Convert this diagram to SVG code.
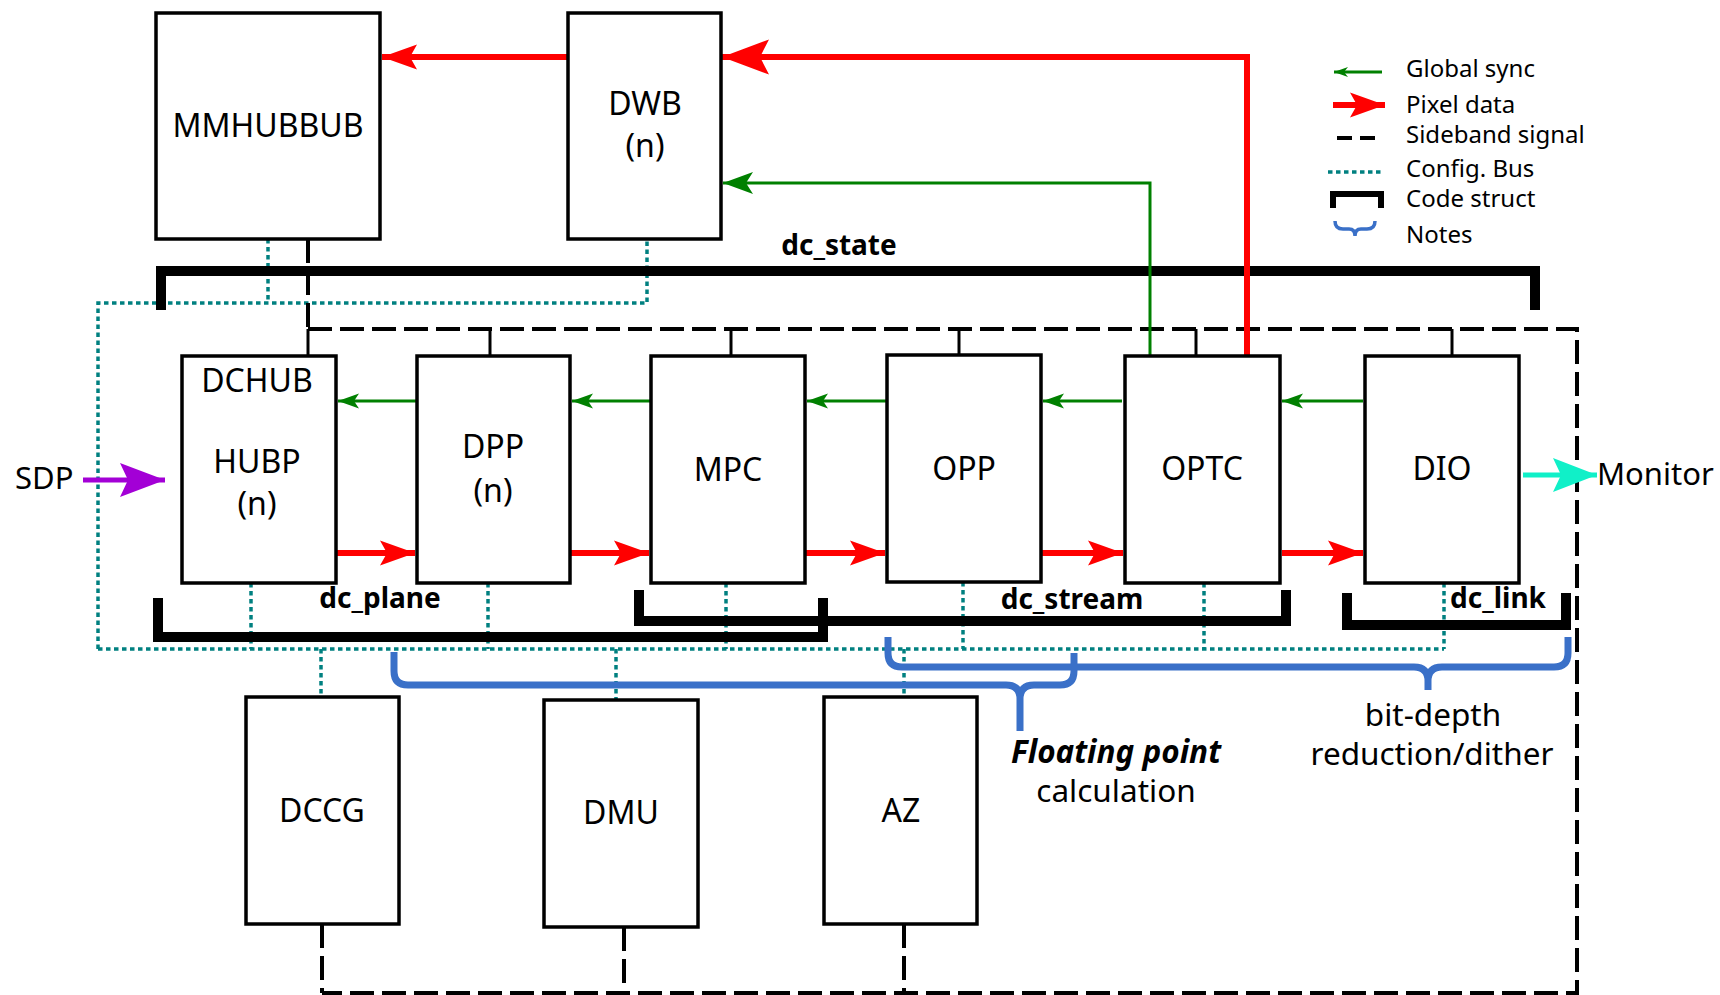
<svg xmlns="http://www.w3.org/2000/svg" width="1720" height="995" viewBox="0 0 1720 995">
<style>
.box{fill:#fff;stroke:#000;stroke-width:3.5}
.lbl{font-family:"Noto Sans","Open Sans","DejaVu Sans",sans-serif;font-size:32px;fill:#000;text-anchor:middle}
.lg{font-family:"Noto Sans","Open Sans","DejaVu Sans",sans-serif;font-size:24px;fill:#000}
.struct{font-family:"Noto Sans","Open Sans","DejaVu Sans",sans-serif;font-size:28px;font-weight:bold;fill:#000;text-anchor:middle}
.note{font-family:"Noto Sans","Open Sans","DejaVu Sans",sans-serif;font-size:31.5px;fill:#000;text-anchor:middle}
.red{fill:none;stroke:#ff0000;stroke-width:6}
.grn{fill:none;stroke:#008000;stroke-width:3}
.cfg{fill:none;stroke:#008080;stroke-width:3.5;stroke-dasharray:4.5 3.5}
.sb{fill:none;stroke:#000;stroke-width:4;stroke-dasharray:24 8}
.stub{fill:none;stroke:#000;stroke-width:3}
.cs{fill:none;stroke:#000;stroke-width:10;stroke-linejoin:miter;stroke-linecap:butt}
.brace{fill:none;stroke:#3a70c8;stroke-width:7;stroke-linecap:butt}
</style>
<defs>
<marker id="rH" markerUnits="userSpaceOnUse" viewBox="-36 -13 37 26" markerWidth="37" markerHeight="26" refX="0" refY="0" orient="auto" overflow="visible">
<path d="M0,0 L-35,-12.5 L-28,0 L-35,12.5 Z" fill="#ff0000"/>
</marker>
<marker id="rHB" markerUnits="userSpaceOnUse" viewBox="-48 -18 49 36" markerWidth="49" markerHeight="36" refX="0" refY="0" orient="auto" overflow="visible">
<path d="M0,0 L-47,-17.5 L-38,0 L-47,17.5 Z" fill="#ff0000"/>
</marker>
<marker id="gH" markerUnits="userSpaceOnUse" viewBox="-22 -8 23 16" markerWidth="23" markerHeight="16" refX="0" refY="0" orient="auto" overflow="visible">
<path d="M0,0 L-21,-7.5 L-16,0 L-21,7.5 Z" fill="#008000"/>
</marker>
<marker id="gHB" markerUnits="userSpaceOnUse" viewBox="-31 -12 32 24" markerWidth="32" markerHeight="24" refX="0" refY="0" orient="auto" overflow="visible">
<path d="M0,0 L-30,-11 L-23,0 L-30,11 Z" fill="#008000"/>
</marker>
<marker id="gHS" markerUnits="userSpaceOnUse" viewBox="-15 -6 16 12" markerWidth="16" markerHeight="12" refX="0" refY="0" orient="auto" overflow="visible">
<path d="M0,0 L-14,-5 L-10,0 L-14,5 Z" fill="#008000"/>
</marker>
<marker id="pH" markerUnits="userSpaceOnUse" viewBox="-46 -18 47 36" markerWidth="47" markerHeight="36" refX="0" refY="0" orient="auto" overflow="visible">
<path d="M0,0 L-45,-17 L-37,0 L-45,17 Z" fill="#a300d6"/>
</marker>
<marker id="cH" markerUnits="userSpaceOnUse" viewBox="-46 -18 47 36" markerWidth="47" markerHeight="36" refX="0" refY="0" orient="auto" overflow="visible">
<path d="M0,0 L-44,-17 L-36,0 L-44,17 Z" fill="#10f0c8"/>
</marker>
</defs>
<rect width="1720" height="995" fill="#fff"/>

<g id="connectors">
<path class="cfg" d="M268 239 V303"/>
<path class="cfg" d="M98 649 V303 H647 V239"/>
<path class="cfg" d="M98 649 H1444"/>
<path class="cfg" d="M251 583 V649"/>
<path class="cfg" d="M488 583 V649"/>
<path class="cfg" d="M726 583 V649"/>
<path class="cfg" d="M963 582 V649"/>
<path class="cfg" d="M1204 583 V649"/>
<path class="cfg" d="M1444 583 V649"/>
<path class="cfg" d="M321 649 V697"/>
<path class="cfg" d="M616 649 V700"/>
<path class="cfg" d="M904 649 V697"/>
<path class="sb" d="M308 239 V329"/>
<path class="sb" d="M308 329 H1577 V993 H322"/>
<path class="sb" d="M322 924 V993"/>
<path class="sb" d="M624 927 V993"/>
<path class="sb" d="M904 924 V993"/>
<path class="stub" d="M308 329 V356"/>
<path class="stub" d="M490 329 V356"/>
<path class="stub" d="M731 329 V356"/>
<path class="stub" d="M959 329 V355"/>
<path class="stub" d="M1196 329 V356"/>
<path class="stub" d="M1452 329 V356"/>
<path class="cs" d="M161 310 V271 H1535 V310"/>
<path class="cs" d="M158 598 V637 H823 V598"/>
<path class="cs" d="M639 590 V621 H1286 V590"/>
<path class="cs" d="M1347 593 V625 H1566 V593"/>
<path class="grn" d="M1150 356 V183 H723" marker-end="url(#gHB)"/>
<path class="grn" d="M416 401 H338" marker-end="url(#gH)"/>
<path class="grn" d="M650 401 H572" marker-end="url(#gH)"/>
<path class="grn" d="M886 401 H807" marker-end="url(#gH)"/>
<path class="grn" d="M1122 401 H1043" marker-end="url(#gH)"/>
<path class="grn" d="M1363 401 H1282" marker-end="url(#gH)"/>
<path class="red" d="M1247 356 V57 H722" marker-end="url(#rHB)"/>
<path class="red" d="M568 57 H382" marker-end="url(#rH)"/>
<path class="red" d="M337 553 H415" marker-end="url(#rH)"/>
<path class="red" d="M571 553 H649" marker-end="url(#rH)"/>
<path class="red" d="M806 553 H885" marker-end="url(#rH)"/>
<path class="red" d="M1042 553 H1123" marker-end="url(#rH)"/>
<path class="red" d="M1282 553 H1363" marker-end="url(#rH)"/>
<path d="M83 480 H165" fill="none" stroke="#a300d6" stroke-width="5" marker-end="url(#pH)"/>
<path d="M1523 475 H1597" fill="none" stroke="#10f0c8" stroke-width="5" marker-end="url(#cH)"/>
<path class="brace" d="M394 652 V671 Q394 685 408 685 H1006 Q1020 685 1020 699 V731 M1020 699 Q1020 685 1034 685 H1060 Q1074 685 1074 671 V653"/>
<path class="brace" d="M888 637 V653 Q888 667 902 667 H1414 Q1428 667 1428 681 V690 M1428 681 Q1428 667 1442 667 H1554 Q1568 667 1568 653 V637"/>
</g>

<g id="MMHUBBUB"><rect class="box" x="156" y="13" width="224" height="226"/><text class="lbl" x="268" y="137">MMHUBBUB</text></g>
<g id="DWB"><rect class="box" x="568" y="13" width="153" height="226"/><text class="lbl" x="645" y="115">DWB</text><text class="lbl" x="645" y="157">(n)</text></g>
<g id="HUBP"><rect class="box" x="182" y="356" width="154" height="227"/><text class="lbl" x="257" y="392">DCHUB</text><text class="lbl" x="257" y="473">HUBP</text><text class="lbl" x="257" y="515">(n)</text></g>
<g id="DPP"><rect class="box" x="417" y="356" width="153" height="227"/><text class="lbl" x="493" y="458">DPP</text><text class="lbl" x="493" y="502">(n)</text></g>
<g id="MPC"><rect class="box" x="651" y="356" width="154" height="227"/><text class="lbl" x="728" y="481">MPC</text></g>
<g id="OPP"><rect class="box" x="887" y="355" width="154" height="227"/><text class="lbl" x="964" y="480">OPP</text></g>
<g id="OPTC"><rect class="box" x="1125" y="356" width="155" height="227"/><text class="lbl" x="1202" y="480">OPTC</text></g>
<g id="DIO"><rect class="box" x="1365" y="356" width="154" height="227"/><text class="lbl" x="1442" y="480">DIO</text></g>
<g id="DCCG"><rect class="box" x="246" y="697" width="153" height="227"/><text class="lbl" x="322" y="822">DCCG</text></g>
<g id="DMU"><rect class="box" x="544" y="700" width="154" height="227"/><text class="lbl" x="621" y="824">DMU</text></g>
<g id="AZ"><rect class="box" x="824" y="697" width="153" height="227"/><text class="lbl" x="901" y="822">AZ</text></g>

<g id="SDP"><text class="lg" x="15" y="489" style="font-size:31px">SDP</text></g>
<g id="Monitor"><text class="lg" x="1597" y="485" style="font-size:31px">Monitor</text></g>

<g id="struct-labels">
<text class="struct" x="839" y="255">dc_state</text>
<text class="struct" x="380" y="608">dc_plane</text>
<text class="struct" x="1072" y="609">dc_stream</text>
<text class="struct" x="1498" y="608">dc_link</text>
</g>

<g id="notes">
<text class="note" x="1116" y="763" style="font-weight:bold;font-style:italic">Floating point</text>
<text class="note" x="1116" y="802">calculation</text>
<text class="note" x="1433" y="726">bit-depth</text>
<text class="note" x="1432" y="765">reduction/dither</text>
</g>

<g id="legend">
<path class="grn" d="M1382 72 H1334" marker-end="url(#gHS)"/>
<text class="lg" x="1406" y="77">Global sync</text>
<path class="red" d="M1333 105 H1385" marker-end="url(#rH)"/>
<text class="lg" x="1406" y="113">Pixel data</text>
<path d="M1337 138 H1377" fill="none" stroke="#000" stroke-width="4" stroke-dasharray="15 8"/>
<text class="lg" x="1406" y="143">Sideband signal</text>
<path class="cfg" d="M1328 172 H1382"/>
<text class="lg" x="1406" y="177">Config. Bus</text>
<path d="M1333 208 V194 H1381 V208" fill="none" stroke="#000" stroke-width="6"/>
<text class="lg" x="1406" y="207">Code struct</text>
<path d="M1335 221 Q1335 229 1343 229 H1349 Q1355 229 1355 236 M1355 236 Q1355 229 1361 229 H1367 Q1375 229 1375 221" fill="none" stroke="#3a70c8" stroke-width="3.5"/>
<text class="lg" x="1406" y="243">Notes</text>
</g>
</svg>
